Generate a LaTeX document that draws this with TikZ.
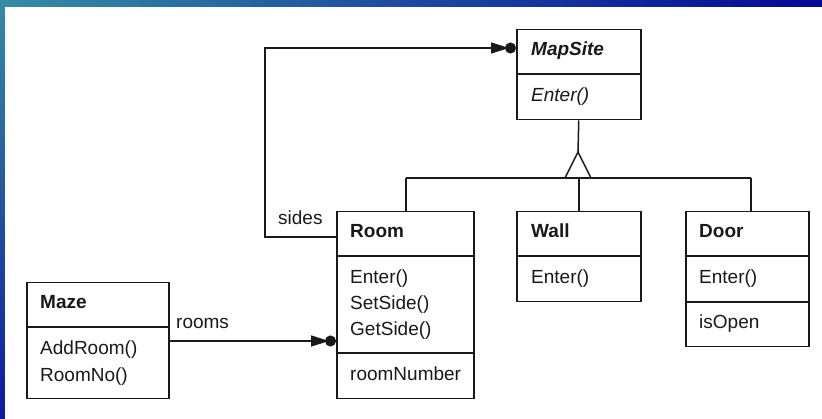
\documentclass[tikz,border=0pt]{standalone}
\usepackage{fontspec}
\setmainfont{Liberation Sans}
\usetikzlibrary{arrows.meta}
\definecolor{tealA}{RGB}{52,140,165}
\definecolor{blueA}{RGB}{4,8,150}
\definecolor{blueB}{RGB}{14,26,158}
\definecolor{inkA}{RGB}{25,25,25}
\begin{document}
\begin{tikzpicture}[x=1pt,y=-1pt,
  cls/.style={draw=inkA, line width=1.5pt, anchor=north west, inner sep=0pt, fill=white},
  sepline/.style={draw=inkA, line width=1.5pt},
  conn/.style={draw=inkA, line width=1.5pt},
  assoc/.style={conn, -{Triangle[length=18pt,width=11pt,sep=-4pt]Circle[length=11pt,width=11pt]}},
  txt/.style={anchor=base west, inner sep=0pt, text=inkA, font=\fontsize{19}{26}\selectfont},
  ttl/.style={txt, font=\fontsize{19}{26}\selectfont\bfseries}]
\useasboundingbox (0,0) rectangle (822,419);
% background frame
\shade[left color=tealA, right color=blueA] (0,0) rectangle (822,7);
\shade[top color=tealA, bottom color=blueB] (0,0) rectangle (5,419);
\fill[white] (5,7) rectangle (822,419);

% MapSite
\node[cls, minimum width=124pt, minimum height=90pt] (mapsite) at (516,29) {};
\coordinate (ms1) at (0,74);
\draw[sepline] (mapsite.west |- ms1) -- (mapsite.east |- ms1);
\node[txt, font=\fontsize{19}{26}\selectfont\bfseries\itshape] (msname) at (531,56) {MapSite};
\node[txt, font=\fontsize{19}{26}\selectfont\itshape] (msenter) at (531,102) {Enter()};

% Room
\node[cls, minimum width=137pt, minimum height=187pt] (room) at (336,211) {};
\coordinate (rs1) at (0,256);
\coordinate (rs2) at (0,353);
\draw[sepline] (room.west |- rs1) -- (room.east |- rs1);
\draw[sepline] (room.west |- rs2) -- (room.east |- rs2);
\node[ttl] (roomname) at (350,238) {Room};
\node[txt] (roomenter) at (350,284) {Enter()};
\node[txt] (roomset) at (350,310) {SetSide()};
\node[txt] (roomget) at (350,336) {GetSide()};
\node[txt] (roomnum) at (350,381) {roomNumber};

% Wall
\node[cls, minimum width=124pt, minimum height=90pt] (wall) at (516,211) {};
\draw[sepline] (wall.west |- rs1) -- (wall.east |- rs1);
\node[ttl] (wallname) at (531,238) {Wall};
\node[txt] (wallenter) at (531,284) {Enter()};

% Door
\node[cls, minimum width=123pt, minimum height=135pt] (door) at (685,211) {};
\coordinate (ds2) at (0,302);
\draw[sepline] (door.west |- rs1) -- (door.east |- rs1);
\draw[sepline] (door.west |- ds2) -- (door.east |- ds2);
\node[ttl] (doorname) at (699,238) {Door};
\node[txt] (doorenter) at (699,284) {Enter()};
\node[txt] (dooropen) at (699,329) {isOpen};

% Maze
\node[cls, minimum width=142pt, minimum height=116pt] (maze) at (26,282) {};
\coordinate (mz1) at (0,327);
\draw[sepline] (maze.west |- mz1) -- (maze.east |- mz1);
\node[ttl] (mazename) at (40,309) {Maze};
\node[txt] (mazeadd) at (40,355) {AddRoom()};
\node[txt] (mazeno) at (40,382) {RoomNo()};

% inheritance
\coordinate (apex) at (578,152);
\coordinate (tl) at (565,178);
\coordinate (tr) at (591,178);
\coordinate (bl) at (406,178);
\coordinate (br) at (751,178);
\draw[conn] (mapsite.south) -- (apex);
\draw[conn] (bl) -- (br);
\draw[conn, fill=white] (apex) -- (tl) -- (tr) -- cycle;
\draw[conn] (bl) -- (bl |- room.north);
\draw[conn] (wall.north |- bl) -- (wall.north);
\draw[conn] (br) -- (br |- door.north);

% sides association
\coordinate (s1) at (265,237);
\coordinate (s2) at (265,48);
\draw[assoc] (room.west |- s1) -- (s1) -- (s2) -- (mapsite.west |- s2);
\node[txt] (sides) at (278,225) {sides};

% rooms association
\coordinate (r1) at (0,341);
\draw[assoc] (maze.east |- r1) -- (room.west |- r1);
\node[txt] (rooms) at (176,329) {rooms};
\end{tikzpicture}
\end{document}
